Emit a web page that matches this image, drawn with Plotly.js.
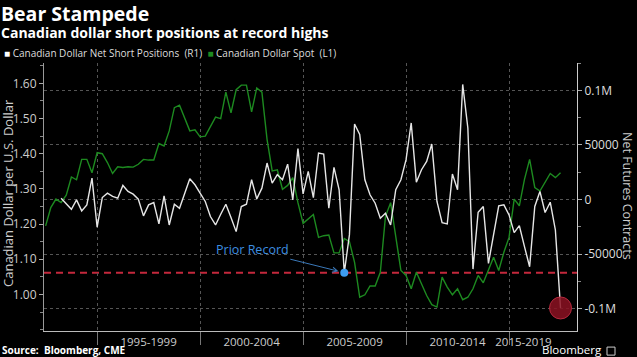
<!DOCTYPE html>
<html>
<head>
<meta charset="utf-8">
<script src="https://cdn.plot.ly/plotly-3.0.1.min.js"></script>
<style>
  html, body { margin: 0; padding: 0; background: #000; }
  #chart { width: 637px; height: 357px; }
</style>
</head>
<body>
<div id="chart"></div>
<script>
// ---- Data (quarterly, decimal years) ----
const spotStart = 1992.5;   // first quarter of the spot series
const shortStart = 1993.25; // first quarter of the net short series

// Canadian Dollar Spot (USD/CAD), left axis
const spotValues = [
  1.195, 1.247, 1.271, 1.261, 1.282, 1.334, 1.326, 1.384, 1.384, 1.346,
  1.403, 1.400, 1.375, 1.344, 1.363, 1.361, 1.363, 1.362, 1.370, 1.384,
  1.382, 1.382, 1.429, 1.422, 1.465, 1.531, 1.538, 1.502, 1.465, 1.468,
  1.448, 1.450, 1.479, 1.504, 1.500,
  1.575, 1.516, 1.582, 1.595, 1.595, 1.519, 1.587, 1.575, 1.441, 1.351,
  1.354, 1.299, 1.310, 1.332, 1.261, 1.202, 1.214, 1.227, 1.162, 1.167,
  1.169, 1.118, 1.118, 1.159, 1.150, 1.091, 0.992, 0.999, 1.024, 1.024,
  1.063, 1.222, 1.261,
  1.158, 1.068, 1.054, 1.016, 1.063, 1.030, 0.997, 0.971, 0.964, 1.049,
  1.021, 0.999, 1.016, 0.985, 0.992, 1.016, 1.054, 1.033, 1.068, 1.106,
  1.068, 1.120, 1.162, 1.271, 1.252, 1.327, 1.384, 1.304, 1.294, 1.318,
  1.344, 1.332, 1.346
];

// Canadian Dollar Net Short Positions (contracts), right axis
const shortValues = [
  1200, -3400, -8900, -300, -10400, -4900, 19600, -25400, 1800, 5800,
  2800, 1200, 12900, 7400, 4900, 300, -15000, -4900, -2800, -22300,
  3400, -23300, -4300, -8000, 5800, 19000, 13500, 6400, -1800, -15600,
  -23300, -13500,
  -4300, -16500, -29400, -6400, -4300, 18100, 600, 10400, 33400, 15000,
  22700, 18100, 32400, -300, 46600, 5200, 25700, 1800, 42600, 41600,
  -8000, 29400, 8900, -67000, -32400, 69200, 59500, 18100, 4300, -3400,
  -17200, -12600, -23300,
  9000, 18100, 36500, 70100, 15900, 27300, 34900, 50800, -1800, -21100,
  -22300, 23300, 8900, 105400, 65500, -63700, -11700, -6400, -58500, -32400,
  -5800, -4900, -14100, -30300, -23900, -43200, -61600, -6400, 7400, -11900,
  -2500, -27900, -99300
];

const periodBounds = [1995, 2000, 2005, 2010, 2015];
const periodLabels = ['1995-1999', '2000-2004', '2005-2009', '2010-2014', '2015-2019'];
const leftTicks = [1.00, 1.10, 1.20, 1.30, 1.40, 1.50, 1.60];
const rightTicks = [-100000, -50000, 0, 50000, 100000];
const rightTickText = ['-0.1M', '-50000', '0', '50000', '0.1M'];

// ---- Derived ----
const spotX = spotValues.map((_, i) => spotStart + i * 0.25);
const shortX = shortValues.map((_, i) => shortStart + i * 0.25);
const xRange = [1992.42, 2018.3];
const lastLabelEnd = 2016.4;

// prior record = lowest net position before the latest reading
let priorIdx = 0;
for (let i = 0; i < shortValues.length - 1; i++) {
  if (shortValues[i] < shortValues[priorIdx]) priorIdx = i;
}
const lastIdx = shortValues.length - 1;
const labelPos = periodBounds.map((b) => (b + Math.min(b + 5, lastLabelEnd)) / 2);

const FONT = '"Open Sans", Roboto, Arial, sans-serif';
const NB = '\u00a0';

const traces = [
  {
    x: spotX, y: spotValues, type: 'scatter', mode: 'lines',
    line: { color: '#1d8a20', width: 1.4 }, yaxis: 'y', xaxis: 'x',
    name: 'Canadian Dollar Spot (L1)', hoverinfo: 'skip'
  },
  {
    x: shortX, y: shortValues, type: 'scatter', mode: 'lines',
    line: { color: '#e6e6e6', width: 1.4 }, yaxis: 'y2', xaxis: 'x',
    name: 'Canadian Dollar Net Short Positions (R1)', hoverinfo: 'skip'
  },
  {
    x: [shortX[lastIdx]], y: [shortValues[lastIdx]], type: 'scatter', mode: 'markers',
    marker: { color: 'rgba(140,18,34,0.85)', size: 22, line: { color: '#b3293d', width: 1 } },
    yaxis: 'y2', xaxis: 'x', hoverinfo: 'skip'
  },
  {
    x: [shortX[priorIdx]], y: [shortValues[priorIdx]], type: 'scatter', mode: 'markers',
    marker: { color: '#3d9cf0', size: 8 }, yaxis: 'y2', xaxis: 'x', hoverinfo: 'skip'
  }
];

const layout = {
  width: 637, height: 357,
  margin: { l: 44, r: 60, t: 63, b: 26, pad: 0 },
  paper_bgcolor: '#000', plot_bgcolor: '#000',
  showlegend: false,
  font: { family: FONT, color: '#cccccc' },
  xaxis: {
    range: xRange, type: 'linear',
    tickmode: 'array', tickvals: labelPos, ticktext: periodLabels,
    ticks: '', showgrid: false, zeroline: false,
    showline: true, linecolor: '#bbbbbb', linewidth: 1,
    tickfont: { size: 11.5, color: '#cccccc', family: FONT },
    minor: {
      tickmode: 'array', tickvals: periodBounds, ticks: 'outside', ticklen: 13,
      tickcolor: '#777777', tickwidth: 1, showgrid: true, gridcolor: '#555555',
      griddash: 'dot', gridwidth: 1
    }
  },
  xaxis2: {
    overlaying: 'x', anchor: 'y', side: 'bottom', range: xRange, type: 'linear',
    tickmode: 'linear', tick0: 1993, dtick: 1, ticks: 'outside', ticklen: 3,
    tickcolor: '#999999', showticklabels: false, showgrid: false, showline: false,
    zeroline: false
  },
  yaxis: {
    range: [0.896, 1.658],
    tickmode: 'array', tickvals: leftTicks, tickformat: '.2f',
    ticks: 'outside', ticklen: 4, tickcolor: '#aaaaaa',
    showgrid: false, zeroline: false,
    showline: true, linecolor: '#999999', linewidth: 1,
    tickfont: { size: 12, color: '#cccccc', family: FONT },
    minor: { tickmode: 'linear', tick0: 0.9, dtick: 0.05, ticks: 'outside', ticklen: 3, tickcolor: '#888888', showgrid: false }
  },
  yaxis2: {
    overlaying: 'y', side: 'right', anchor: 'x',
    range: [-120400, 125000],
    tickmode: 'array', tickvals: rightTicks, ticktext: rightTickText,
    ticks: 'outside', ticklen: 4, tickcolor: '#aaaaaa',
    showgrid: true, gridcolor: '#555555', griddash: 'dot', gridwidth: 1,
    zeroline: false,
    showline: true, linecolor: '#cccccc', linewidth: 1,
    tickfont: { size: 12, color: '#dddddd', family: FONT },
    minor: { tickmode: 'linear', tick0: 0, dtick: 25000, ticks: 'outside', ticklen: 3, tickcolor: '#888888', showgrid: false }
  },
  shapes: [
    {
      type: 'line', xref: 'paper', yref: 'y2', x0: 0, x1: 1,
      y0: shortValues[priorIdx], y1: shortValues[priorIdx],
      line: { color: '#c4283c', width: 2, dash: '7px,5px' }, layer: 'below'
    },
    {
      type: 'rect', xref: 'paper', yref: 'paper',
      x0: 1.0563, x1: 1.0713, y0: -0.09, y1: -0.06,
      line: { color: '#cccccc', width: 1 }, fillcolor: 'rgba(0,0,0,0)'
    }
  ],
  annotations: [
    {
      text: '<b>Bear Stampede</b>', xref: 'paper', yref: 'paper', x: 0, y: 1,
      xanchor: 'left', yanchor: 'middle', xshift: -45, yshift: 50, showarrow: false,
      font: { size: 19.5, color: '#ffffff', family: FONT }
    },
    {
      text: '<b>Canadian dollar short positions at record highs</b>', xref: 'paper', yref: 'paper', x: 0, y: 1,
      xanchor: 'left', yanchor: 'middle', xshift: -45, yshift: 31, showarrow: false,
      font: { size: 14, color: '#ffffff', family: FONT }
    },
    {
      text: '<span style="color:#ffffff">■</span>' + NB + 'Canadian Dollar Net Short Positions' + NB + NB + '(R1)' + NB + NB +
            '<span style="color:#1d8a20">■</span>' + NB + 'Canadian Dollar Spot' + NB + NB + '(L1)',
      xref: 'paper', yref: 'paper', x: 0, y: 1,
      xanchor: 'left', yanchor: 'middle', xshift: -42, yshift: 10, showarrow: false,
      font: { size: 10, color: '#dddddd', family: FONT }
    },
    {
      text: 'Canadian Dollar per U.S. Dollar', xref: 'paper', yref: 'paper', x: 0, y: 0.5,
      xanchor: 'center', yanchor: 'middle', xshift: -36, yshift: 4, textangle: -90, showarrow: false,
      font: { size: 13, color: '#cccccc', family: FONT }
    },
    {
      text: 'Net Futures Contracts', xref: 'paper', yref: 'paper', x: 1, y: 0.5,
      xanchor: 'center', yanchor: 'middle', xshift: 51, yshift: 1, textangle: 90, showarrow: false,
      font: { size: 12.5, color: '#cccccc', family: FONT }
    },
    {
      text: '<b>Source:' + NB + NB + 'Bloomberg, CME</b>', xref: 'paper', yref: 'paper', x: 0, y: 0,
      xanchor: 'left', yanchor: 'middle', xshift: -44, yshift: -19, showarrow: false,
      font: { size: 10, color: '#ffffff', family: FONT }
    },
    {
      text: 'Bloomberg', xref: 'paper', yref: 'paper', x: 1, y: 0,
      xanchor: 'right', yanchor: 'middle', xshift: 27, yshift: -18, showarrow: false,
      font: { size: 11.5, color: '#ffffff', family: FONT }
    },
    {
      text: 'Prior Record', xref: 'x', yref: 'y2',
      x: shortX[priorIdx], y: shortValues[priorIdx],
      ax: -92, ay: -23, axref: 'pixel', ayref: 'pixel',
      showarrow: true, arrowhead: 5, arrowsize: 1, arrowwidth: 1, arrowcolor: '#3a78b8',
      standoff: 6, font: { size: 12.5, color: '#3d8fe0', family: FONT }
    }
  ]
};

Plotly.newPlot('chart', traces, layout, { staticPlot: true, displayModeBar: false });
</script>
</body>
</html>
